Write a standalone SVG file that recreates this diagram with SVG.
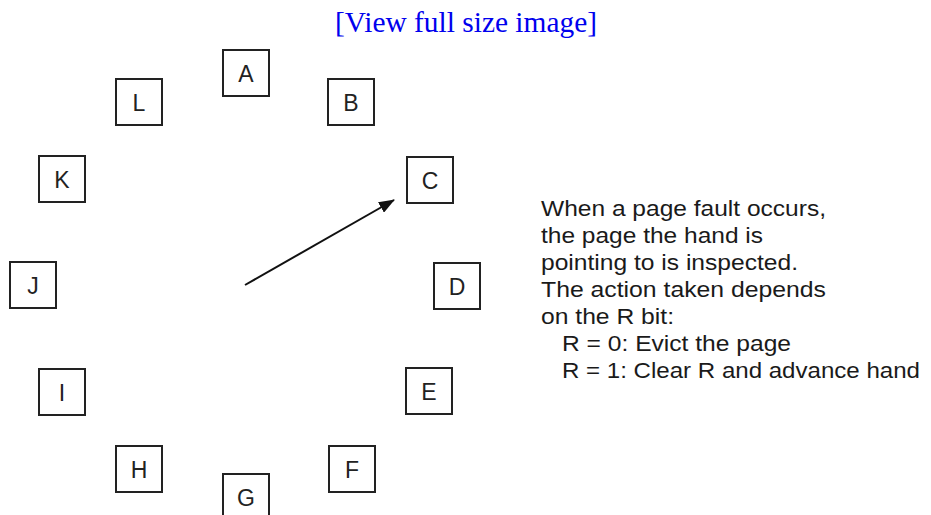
<svg xmlns="http://www.w3.org/2000/svg" width="931" height="515" viewBox="0 0 931 515">
<style>
.box{fill:#fff;stroke:#222;stroke-width:2}
.lbl{font-family:"Liberation Sans",Arial,sans-serif;font-size:23px;fill:#222;text-anchor:middle}
.note{font-family:"Liberation Sans",Arial,sans-serif;font-size:22px;fill:#1a1a1a}
.hdr{font-family:"Liberation Serif","Times New Roman",serif;font-size:29px;fill:#0000ee}
</style>
<defs>
<marker id="ah" markerWidth="16" markerHeight="12" refX="15" refY="6" orient="auto" markerUnits="userSpaceOnUse">
<path d="M0,0 L16,6 L0,12 z" fill="#111"/>
</marker>
</defs>
<rect width="931" height="515" fill="#fff"/>
<text class="hdr" x="335" y="32" textLength="262" lengthAdjust="spacingAndGlyphs">[View full size image]</text>
<g id="A"><rect class="box" x="223" y="50" width="46" height="46"/><text class="lbl" x="246" y="82">A</text></g>
<g id="B"><rect class="box" x="328" y="79" width="46" height="46"/><text class="lbl" x="351" y="111">B</text></g>
<g id="C"><rect class="box" x="407" y="157" width="46" height="46"/><text class="lbl" x="430" y="189">C</text></g>
<g id="D"><rect class="box" x="434" y="263" width="46" height="46"/><text class="lbl" x="457" y="295">D</text></g>
<g id="E"><rect class="box" x="406" y="368" width="46" height="46"/><text class="lbl" x="429" y="400">E</text></g>
<g id="F"><rect class="box" x="329" y="446" width="46" height="46"/><text class="lbl" x="352" y="478">F</text></g>
<g id="G"><rect class="box" x="223" y="474" width="46" height="46"/><text class="lbl" x="246" y="506">G</text></g>
<g id="H"><rect class="box" x="116" y="446" width="46" height="46"/><text class="lbl" x="139" y="478">H</text></g>
<g id="I"><rect class="box" x="39" y="369" width="46" height="46"/><text class="lbl" x="62" y="401">I</text></g>
<g id="J"><rect class="box" x="10" y="262" width="46" height="46"/><text class="lbl" x="33" y="294">J</text></g>
<g id="K"><rect class="box" x="39" y="156" width="46" height="46"/><text class="lbl" x="62" y="188">K</text></g>
<g id="L"><rect class="box" x="116" y="79" width="46" height="46"/><text class="lbl" x="139" y="111">L</text></g>
<g id="connectors">
<line x1="245" y1="285" x2="394" y2="200" stroke="#111" stroke-width="2" marker-end="url(#ah)"/>
</g>
<g id="note" class="note">
<text x="541" y="216" textLength="285" lengthAdjust="spacingAndGlyphs">When a page fault occurs,</text>
<text x="541" y="243" textLength="222" lengthAdjust="spacingAndGlyphs">the page the hand is</text>
<text x="541" y="270" textLength="257" lengthAdjust="spacingAndGlyphs">pointing to is inspected.</text>
<text x="541" y="297" textLength="285" lengthAdjust="spacingAndGlyphs">The action taken depends</text>
<text x="541" y="324" textLength="133" lengthAdjust="spacingAndGlyphs">on the R bit:</text>
<text x="562" y="351" textLength="229" lengthAdjust="spacingAndGlyphs">R = 0: Evict the page</text>
<text x="562" y="378" textLength="358" lengthAdjust="spacingAndGlyphs">R = 1: Clear R and advance hand</text>
</g>
</svg>
